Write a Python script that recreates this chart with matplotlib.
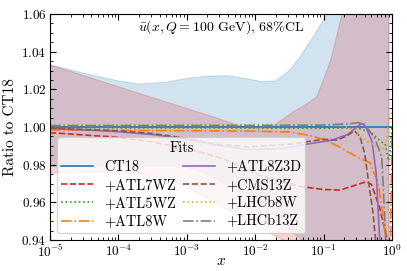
import numpy as np
import matplotlib.pyplot as plt
from matplotlib.ticker import MultipleLocator

plt.rcParams['font.family'] = 'serif'
plt.rcParams['font.serif'] = ['cmr10']
plt.rcParams['mathtext.fontset'] = 'cm'
plt.rcParams['axes.formatter.use_mathtext'] = True

# log10(x) positions, with ratio values

# CT18 band (blue)
ct18_band_lx = [-5, -4.5, -4, -3.7, -3.3, -3, -2.7, -2.4, -2.1, -1.9, -1.7, -1.5,
                -1.35, -1.15, -0.95, -0.8, -0.5, -0.044]
ct18_band_hi = [1.033, 1.0285, 1.0245, 1.0228, 1.0238, 1.0258, 1.027, 1.0272, 1.0255,
                1.024, 1.0245, 1.030, 1.037, 1.048, 1.06, 1.075, 1.11, 1.2]
ct18_band_lo = [0.979, 0.9795, 0.9795, 0.9795, 0.9792, 0.9788, 0.975, 0.969, 0.963,
                0.958, 0.952, 0.9454, 0.941, 0.935, 0.93, 0.925, 0.91, 0.88]

# ATL7WZ band (red)
atl7_band_lx = [-5, -4.5, -4, -3.5, -3.1, -2.6, -2.5, -2.3, -2.1, -1.9, -1.75, -1.6,
                -1.45, -1.3, -1.1, -0.9, -0.73, -0.5, -0.044]
atl7_band_hi = [1.033, 1.0272, 1.0214, 1.0156, 1.011, 1.0052, 1.004, 1.0015, 0.9995,
                0.999, 1.0005, 1.004, 1.008, 1.011, 1.016, 1.035, 1.06, 1.1, 1.2]
atl7_band_lo = [0.9755, 0.976, 0.976, 0.974, 0.970, 0.960, 0.958, 0.9535, 0.949, 0.9455,
                0.943, 0.940, 0.937, 0.933, 0.928, 0.922, 0.917, 0.9, 0.88]

# central curves
ct18_lx = [-5, 0]
ct18 = [1.0, 1.0]

atl7wz_lx = [-5, -4, -3.5, -3, -2.81, -2.5, -2.2, -1.95, -1.6, -1.35, -1.0, -0.76,
             -0.5, -0.38, -0.3, -0.18, -0.08, -0.05]
atl7wz = [0.997, 0.9945, 0.992, 0.9885, 0.9867, 0.9835, 0.979, 0.9745, 0.971, 0.9685,
          0.9668, 0.9665, 0.9695, 0.971, 0.9695, 0.957, 0.9415, 0.92]

atl5wz_lx = [-5, -2, -1, -0.6, -0.45, -0.29, -0.15, -0.1, -0.05, -0.02, 0]
atl5wz = [0.9996, 0.9995, 0.9993, 0.9995, 0.999, 0.9965, 0.992, 0.991, 0.982, 0.99, 1.0]

atl8w_lx = [-5, -4, -3, -2, -1.5, -1.2, -0.98, -0.8, -0.64, -0.45, -0.32, -0.2,
            -0.12, -0.07, -0.03, 0]
atl8w = [0.9985, 0.9982, 0.998, 0.9978, 0.9973, 0.9955, 0.993, 0.990, 0.9867, 0.983,
         0.981, 0.97, 0.95, 0.93, 0.92, 0.998]

atl8z3d_lx = [-5, -4.5, -4, -3.5, -3, -2.6, -2.1, -1.6, -1.23, -0.88, -0.65, -0.5,
              -0.44, -0.38, -0.29, -0.23, -0.18, -0.12]
atl8z3d = [0.9992, 0.9985, 0.9975, 0.996, 0.9935, 0.9905, 0.988, 0.9885, 0.991, 0.993,
           0.996, 1.0005, 1.0018, 1.0, 0.992, 0.975, 0.94, 0.9]

cms13z_lx = [-5, -4, -3.5, -3, -2.6, -2.1, -1.46, -1.0, -0.8, -0.65, -0.55, -0.47,
             -0.4, -0.34, -0.28, -0.24, -0.18]
cms13z = [0.9993, 0.998, 0.9965, 0.994, 0.991, 0.9895, 0.991, 0.9935, 0.993, 0.9955,
          0.998, 0.995, 0.986, 0.97, 0.955, 0.94, 0.9]

lhcb8w_lx = [-5, -2, -1, -0.73, -0.6, -0.5, -0.35, -0.25, -0.15, -0.08, -0.044, 0]
lhcb8w = [1.0013, 1.0013, 1.001, 1.0008, 0.999, 0.996, 0.992, 0.9904, 0.988, 0.99,
          1.0074, 1.0074]

lhcb13z_lx = [-5, -2, -1, -0.6, -0.5, -0.4, -0.25, -0.15, -0.09, -0.05]
lhcb13z = [1.0007, 1.0008, 1.001, 1.0018, 1.0023, 1.0015, 0.9938, 0.984, 0.94, 0.9]


def xs(lx):
    return 10.0 ** np.asarray(lx, dtype=float)


fig = plt.figure(figsize=(4.07, 2.71), dpi=100)
ax = fig.add_axes([0.1229, 0.1144, 0.8403, 0.8339])

ax.fill_between(xs(ct18_band_lx), ct18_band_lo, ct18_band_hi,
                color='C0', alpha=0.2, lw=0.8)
ax.fill_between(xs(atl7_band_lx), atl7_band_lo, atl7_band_hi,
                color='C3', alpha=0.2, lw=0.8)

lw = 1.2
ax.plot(xs(ct18_lx), ct18, color='C0', ls='-', lw=lw, label='CT18')
ax.plot(xs(atl7wz_lx), atl7wz, color='C3', ls='--', lw=lw, label='+ATL7WZ')
ax.plot(xs(atl5wz_lx), atl5wz, color='C2', ls=':', lw=lw, label='+ATL5WZ')
ax.plot(xs(atl8w_lx), atl8w, color='C1', ls='-.', lw=lw, label='+ATL8W')
ax.plot(xs(atl8z3d_lx), atl8z3d, color='C4', ls='-', lw=lw, label='+ATL8Z3D')
ax.plot(xs(cms13z_lx), cms13z, color='C5', ls='--', lw=lw, label='+CMS13Z')
ax.plot(xs(lhcb8w_lx), lhcb8w, color='C8', ls=':', lw=lw, label='+LHCb8W')
ax.plot(xs(lhcb13z_lx), lhcb13z, color='C7', ls='-.', lw=lw, label='+LHCb13Z')

ax.set_xscale('log')
ax.set_xlim(1e-5, 1)
ax.set_ylim(0.94, 1.06)
ax.yaxis.set_major_locator(MultipleLocator(0.02))
ax.yaxis.set_minor_locator(MultipleLocator(0.005))
ax.tick_params(which='both', direction='in', top=True, right=True, labelsize=9.5)
ax.tick_params(which='major', length=4, pad=2.5)
ax.tick_params(which='minor', length=2)

ax.set_xlabel('$x$', fontsize=11)
ax.xaxis.set_label_coords(0.5, -0.062)
ax.set_ylabel('Ratio to CT18', fontsize=11, labelpad=3)
ax.text(0.5, 0.94, r'$\bar{u}(x,Q=100$ GeV$)$, 68%CL', transform=ax.transAxes,
        ha='center', va='center', fontsize=10)

ax.legend(ncol=2, title='Fits', loc='lower left', fontsize=10.3, title_fontsize=10.3,
          handlelength=2.2, labelspacing=0.32, columnspacing=0.5, borderpad=0.3,
          framealpha=0.8)

fig.savefig('out.png', dpi=100)
